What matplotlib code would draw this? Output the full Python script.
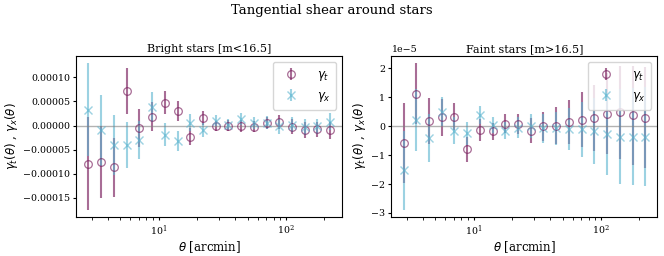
import numpy as np
import matplotlib
matplotlib.use("Agg")
import matplotlib.pyplot as plt

plt.rcParams['font.family'] = 'DejaVu Serif'
plt.rcParams['mathtext.fontset'] = 'dejavusans'

# angular bin centres [arcmin]
theta = [2.81, 3.53, 4.45, 5.60, 7.05, 8.87, 11.2, 14.1, 17.7, 22.3,
         28.1, 35.3, 44.5, 56.0, 70.5, 88.7, 112.0, 141.0, 177.0, 223.0]

# bright stars, values in units of 1e-5
bright_gt = [-7.9, -7.6, -8.7, 7.2, -0.55, 1.86, 4.7, 3.0, -2.3, 1.55,
             -0.1, 0.0, -0.1, -0.25, 0.55, 0.75, -0.25, -0.9, -0.8, -1.0]
bright_gx = [3.3, -1.0, -4.1, -4.1, -3.0, 3.8, -1.9, -3.2, 0.6, -0.95,
             1.0, 0.2, 1.4, 0.5, 0.6, -0.2, 0.2, -0.3, -0.2, 0.8]
bright_err_t = [9.6, 7.4, 6.2, 4.8, 3.9, 3.1, 2.4, 2.1, 1.8, 1.5,
                1.1, 1.1, 1.2, 1.2, 1.3, 1.5, 1.5, 1.6, 1.6, 1.8]
bright_err_x = [9.6, 7.4, 6.2, 4.8, 3.9, 3.1, 2.4, 2.1, 1.8, 1.5,
                1.1, 1.1, 1.2, 1.2, 1.3, 1.5, 1.5, 1.6, 1.6, 1.8]

# faint stars, values in units of 1e-5
faint_gt = [-0.59, 1.12, 0.18, 0.30, 0.33, -0.80, -0.13, -0.18, 0.09, 0.08,
            -0.15, 0.0, 0.02, 0.14, 0.23, 0.28, 0.43, 0.48, 0.37, 0.29]
faint_gx = [-1.53, 0.2, -0.41, 0.5, -0.15, -0.25, 0.40, 0.05, -0.15, -0.05,
            0.01, -0.08, -0.08, -0.1, -0.1, -0.16, -0.26, -0.36, -0.36, -0.36]
faint_err_t = [1.38, 1.05, 0.79, 0.63, 0.46, 0.43, 0.38, 0.3, 0.32, 0.35,
               0.44, 0.5, 0.64, 0.77, 0.95, 1.15, 1.4, 1.6, 1.7, 1.75]
faint_err_x = [1.36, 1.07, 0.84, 0.5, 0.45, 0.4, 0.31, 0.27, 0.3, 0.35,
               0.42, 0.5, 0.56, 0.72, 0.95, 1.15, 1.42, 1.64, 1.69, 1.72]

C_T = '#7a1f5e'
C_X = '#5ab4cf'

panels = [
    ("Bright stars [m<16.5]", bright_gt, bright_gx, bright_err_t, bright_err_x),
    ("Faint stars [m>16.5]", faint_gt, faint_gx, faint_err_t, faint_err_x),
]

fig, axes = plt.subplots(1, 2, figsize=(6.64, 2.56), dpi=100)
fig.subplots_adjust(left=0.115, right=0.99, top=0.781, bottom=0.152, wspace=0.185)

for ax, (title, gt, gx, et, ex) in zip(axes, panels):
    gt = np.array(gt) * 1e-5
    gx = np.array(gx) * 1e-5
    et = np.array(et) * 1e-5
    ex = np.array(ex) * 1e-5
    ax.errorbar(theta, gt, yerr=et, fmt='o', color=C_T, mfc='none', ms=5.5,
                mew=0.9, elinewidth=1.5, alpha=0.65, label=r'$\gamma_t$')
    ax.errorbar(theta, gx, yerr=ex, fmt='x', color=C_X, ms=5.5,
                mew=1.0, elinewidth=1.5, alpha=0.6, label=r'$\gamma_x$')
    ax.axhline(0, color='gray', lw=1, alpha=0.6)
    ax.set_xscale('log')
    ax.set_title(title, fontsize=8, pad=3)
    ax.set_xlabel(r'$\theta$ [arcmin]', fontsize=8.5, labelpad=1)
    ax.set_ylabel(r'$\gamma_t(\theta)$ , $\gamma_x(\theta)$', fontsize=8.5, labelpad=2)
    ax.tick_params(labelsize=6.8, length=2.5, pad=2)
    ax.yaxis.get_offset_text().set_fontsize(6.8)
    ax.legend(loc='upper right', fontsize=8.5, borderpad=0.5, handletextpad=1.2)

fig.suptitle("Tangential shear around stars", fontsize=9.5, y=0.985)
fig.savefig("out.png", dpi=100)
